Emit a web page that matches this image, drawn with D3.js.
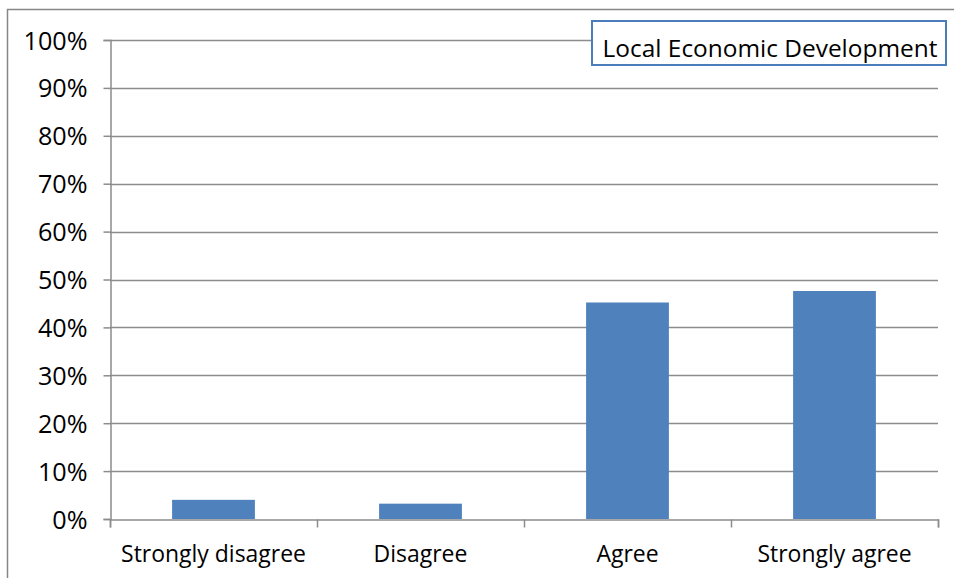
<!DOCTYPE html>
<html><head><meta charset="utf-8">
<script src="https://cdn.jsdelivr.net/npm/d3@7"></script>
<style>body{margin:0;background:#fff}svg{display:block}</style>
</head><body><svg id="c" width="954" height="578"></svg>
<script>
const categories = ["Strongly disagree","Disagree","Agree","Strongly agree"];
const values = [0.04, 0.032, 0.452, 0.476];
const yTicks = [0,0.1,0.2,0.3,0.4,0.5,0.6,0.7,0.8,0.9,1.0];
const title = "Local Economic Development";

const svg = d3.select("#c");
const font = "'Open Sans', sans-serif";
// fit font size so that a reference string has a target width
function fitSize(str, target){
  const t = svg.append("text").attr("font-family",font).attr("font-size",20).text(str);
  const w = t.node().getComputedTextLength(); t.remove();
  return 20*target/w;
}
const fsX = fitSize("Strongly disagree",185);
const fsY = fitSize("100%",64);
const fsT = fitSize(title,335);

// outer chart border
svg.append("rect").attr("x",7.5).attr("y",9.5).attr("width",960).attr("height",600)
  .attr("fill","none").attr("stroke","#868686").attr("stroke-width",1.5);

const L=110, R=938, T=40, B=519;
const x = d3.scaleBand().domain(categories).range([L,R]).paddingInner(0.6).paddingOuter(0.3);
const y = d3.scaleLinear().domain([0,1]).range([B,T]);

// gridlines
svg.append("g").selectAll("line").data(yTicks.slice(1)).join("line")
  .attr("x1",L).attr("x2",R).attr("y1",d=>Math.round(y(d))+0.5).attr("y2",d=>Math.round(y(d))+0.5)
  .attr("stroke","#8c8c8c").attr("stroke-width",1.5);

// bars
svg.append("g").selectAll("rect").data(values).join("rect")
  .attr("x",(d,i)=>x(categories[i])).attr("width",x.bandwidth())
  .attr("y",d=>y(d)).attr("height",d=>B-y(d)).attr("fill","#4f81bd");

// y axis
const ya = svg.append("g").attr("transform",`translate(${L+0.5},0)`)
  .call(d3.axisLeft(y).tickValues(yTicks).tickFormat(d3.format(".0%")).tickSizeOuter(0).tickSize(7).tickPadding(16));
ya.attr("font-family",font).attr("font-size",fsY);
ya.select(".domain").attr("stroke","#8c8c8c").attr("stroke-width",1.5);
ya.selectAll(".tick line").attr("stroke","#8c8c8c").attr("stroke-width",1.5);
ya.selectAll("text").attr("fill","#000").attr("dy","0.36em");

// x axis
const xb = d3.scaleLinear().domain([0,categories.length]).range([L,R]);
const xa = svg.append("g").attr("transform",`translate(0,${B+0.5})`)
  .call(d3.axisBottom(xb).ticks(4).tickFormat("").tickSizeOuter(0).tickSize(8));
xa.select(".domain").attr("stroke","#8c8c8c").attr("stroke-width",1.5);
xa.selectAll(".tick line").attr("stroke","#8c8c8c").attr("stroke-width",1.5);
svg.append("g").selectAll("text").data(categories).join("text")
  .attr("x",d=>x(d)+x.bandwidth()/2).attr("y",562).attr("text-anchor","middle")
  .attr("font-family",font).attr("font-size",fsX).attr("fill","#000").text(d=>d);

// title box
svg.append("rect").attr("x",592).attr("y",21).attr("width",354).attr("height",44)
  .attr("fill","#fff").attr("stroke","#4a7ebb").attr("stroke-width",2);
svg.append("text").attr("x",770).attr("y",57).attr("text-anchor","middle")
  .attr("font-family",font).attr("font-size",fsT).attr("fill","#000").text(title);
</script></body></html>
